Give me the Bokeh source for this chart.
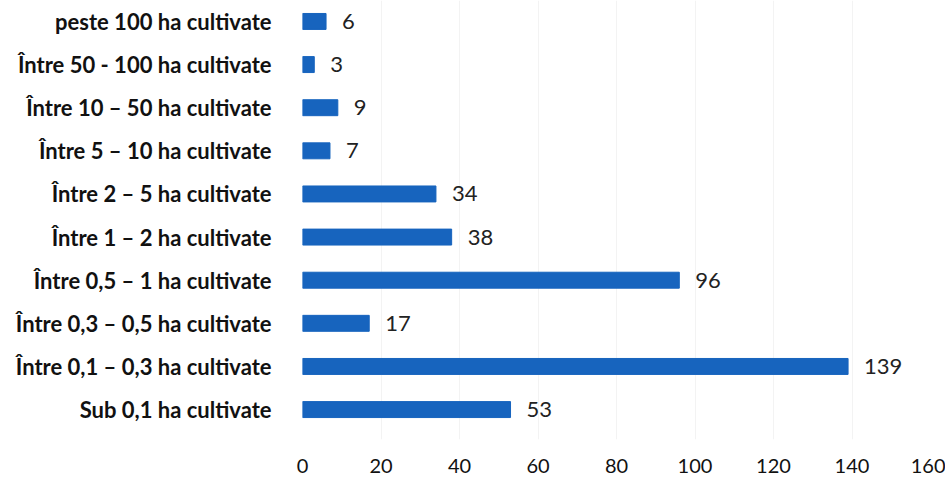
from bokeh.plotting import figure
from bokeh.models import Range1d, FixedTicker, ColumnDataSource, LabelSet
from bokeh.core.properties import value
from bokeh.embed import file_html
from bokeh.resources import INLINE

categories = [
    "Sub 0,1 ha cultivate",
    "Între 0,1 – 0,3 ha cultivate",
    "Între 0,3 – 0,5 ha cultivate",
    "Între 0,5 – 1 ha cultivate",
    "Între 1 – 2 ha cultivate",
    "Între 2 – 5 ha cultivate",
    "Între 5 – 10 ha cultivate",
    "Între 10 – 50 ha cultivate",
    "Între 50 - 100 ha cultivate",
    "peste 100 ha cultivate",
]
values = [53, 139, 17, 96, 38, 34, 7, 9, 3, 6]
x_ticks = [0, 20, 40, 60, 80, 100, 120, 140, 160]

positions = list(range(len(categories)))
src = ColumnDataSource(dict(y=positions, v=values, lbl=[str(v) for v in values], cat=categories))

FONT = "Lato"
BLUE = "#1764BE"

p = figure(width=945, height=475, output_backend="svg", toolbar_location=None,
           x_range=Range1d(0, 160), y_range=Range1d(-0.694, 9.486),
           min_border_left=302, min_border_right=15, min_border_top=0, min_border_bottom=35)
p.outline_line_color = None
p.background_fill_color = "white"

p.hbar(y="y", left=0, right="v", height=0.37, source=src, color=BLUE)

labels = LabelSet(x="v", y="y", text="lbl", source=src, x_offset=16, text_baseline="middle",
                  text_font=value(FONT), text_font_size="22px", text_color="#222222")
p.add_layout(labels)

p.xaxis.ticker = FixedTicker(ticks=x_ticks)
p.xaxis.axis_line_color = None
p.xaxis.major_tick_line_color = None
p.xaxis.minor_tick_line_color = None
p.xaxis.major_label_text_font = FONT
p.xaxis.major_label_text_font_size = "20px"
p.xaxis.major_label_text_color = "#111111"
p.xaxis.major_label_standoff = 13

p.yaxis.ticker = FixedTicker(ticks=positions)
p.yaxis.major_label_overrides = {i: c for i, c in zip(positions, categories)}
p.yaxis.axis_line_color = None
p.yaxis.major_tick_line_color = None
p.yaxis.minor_tick_line_color = None
p.yaxis.major_label_text_font = FONT
p.yaxis.major_label_text_font_size = "22px"
p.yaxis.major_label_text_font_style = "bold"
p.yaxis.major_label_text_color = "#111111"
p.yaxis.major_label_standoff = 25

p.ygrid.grid_line_color = None
p.xgrid.grid_line_color = "#f3f3f3"

open("out.html", "w").write(file_html(p, INLINE))
